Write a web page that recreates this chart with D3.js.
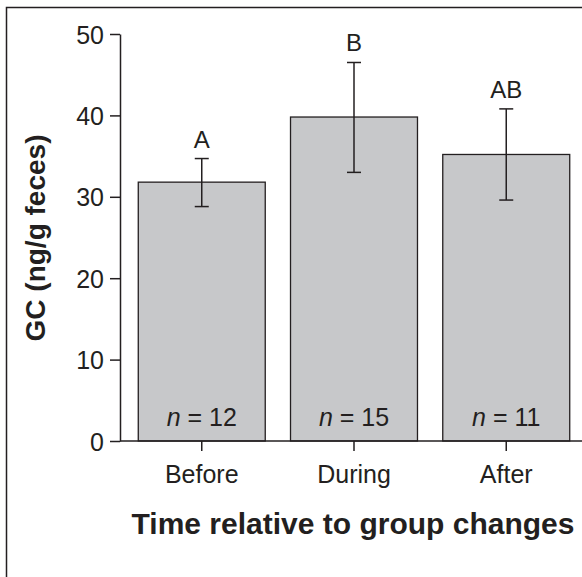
<!DOCTYPE html>
<html>
<head>
<meta charset="utf-8">
<script src="https://cdn.jsdelivr.net/npm/d3@7"></script>
<style>
  body { margin: 0; background: #fff; }
  text { font-family: "Liberation Sans", Arial, sans-serif; fill: #231f20; }
</style>
</head>
<body>
<div id="viz"></div>
<script>
// data
var groups = ["Before", "During", "After"];
var means = [31.8, 39.8, 35.2];
var errLow = [28.8, 33.0, 29.6];
var errHigh = [34.7, 46.5, 40.8];
var sigLetters = ["A", "B", "AB"];
var sampleSizes = [12, 15, 11];
var yTicks = [0, 10, 20, 30, 40, 50];

var W = 582, H = 577;
var ink = "#231f20";
var fontFam = "'Liberation Sans', Arial, sans-serif";

var svg = d3.select("#viz")
  .append("svg")
  .attr("width", W)
  .attr("height", H);

// panel frame (only top and left edges show in the crop)
svg.append("path")
  .attr("d", "M6.5," + H + "V7.5H" + W)
  .attr("fill", "none")
  .attr("stroke", ink)
  .attr("stroke-width", 1.5);

var x = d3.scaleBand().domain(groups).range([120, 588])
  .paddingInner(0.166).paddingOuter(0.12);
var y = d3.scaleLinear().domain([0, 50]).range([441, 34]);

// bars
svg.selectAll(".bar")
  .data(groups)
  .enter().append("rect")
  .attr("class", "bar")
  .attr("x", d => x(d))
  .attr("y", (d, i) => y(means[i]))
  .attr("width", x.bandwidth())
  .attr("height", (d, i) => y(0) - y(means[i]))
  .attr("fill", "#c7c8ca")
  .attr("stroke", ink)
  .attr("stroke-width", 1.3);

// error bars
var cap = 7;
var cx = d => x(d) + x.bandwidth() / 2;
var eb = svg.selectAll(".err")
  .data(groups)
  .enter().append("g")
  .attr("class", "err")
  .attr("stroke", ink)
  .attr("stroke-width", 1.5);
eb.append("line")
  .attr("x1", cx).attr("x2", cx)
  .attr("y1", (d, i) => y(errLow[i]))
  .attr("y2", (d, i) => y(errHigh[i]));
eb.append("line")
  .attr("x1", d => cx(d) - cap)
  .attr("x2", d => cx(d) + cap)
  .attr("y1", (d, i) => y(errLow[i]))
  .attr("y2", (d, i) => y(errLow[i]));
eb.append("line")
  .attr("x1", d => cx(d) - cap)
  .attr("x2", d => cx(d) + cap)
  .attr("y1", (d, i) => y(errHigh[i]))
  .attr("y2", (d, i) => y(errHigh[i]));

// significance letters
svg.selectAll(".sig")
  .data(groups)
  .enter().append("text")
  .attr("class", "sig")
  .attr("x", cx)
  .attr("y", (d, i) => y(errHigh[i]) - 11)
  .attr("text-anchor", "middle")
  .style("font-size", "24px")
  .text((d, i) => sigLetters[i]);

// sample sizes
var nText = svg.selectAll(".nlab")
  .data(groups)
  .enter().append("text")
  .attr("class", "nlab")
  .attr("x", cx)
  .attr("y", 426)
  .attr("text-anchor", "middle")
  .style("font-size", "25px");
nText.append("tspan").style("font-style", "italic").text("n");
nText.append("tspan").text((d, i) => " = " + sampleSizes[i]);

// y axis
var yAxis = d3.axisLeft(y).tickValues(yTicks).tickSize(10).tickPadding(6).tickSizeOuter(0);
var gy = svg.append("g")
  .attr("transform", "translate(120,0)")
  .call(yAxis);
gy.select(".domain").attr("stroke", ink).attr("stroke-width", 1.5);
gy.selectAll(".tick line").attr("stroke", ink).attr("stroke-width", 1.5);
gy.selectAll(".tick text")
  .style("font-size", "25px")
  .style("font-family", fontFam)
  .attr("fill", ink)
  .attr("dy", "0.36em");

// x axis
var xAxis = d3.axisBottom(x).tickSize(10).tickPadding(14).tickSizeOuter(0);
var gx = svg.append("g")
  .attr("transform", "translate(0,441)")
  .call(xAxis);
gx.select(".domain").attr("stroke", ink).attr("stroke-width", 1.5)
  .attr("d", "M120,0H" + W);
gx.selectAll(".tick line").attr("stroke", ink).attr("stroke-width", 1.5);
gx.selectAll(".tick text")
  .style("font-size", "25px")
  .style("font-family", fontFam)
  .attr("fill", ink)
  .attr("dy", "0.71em");

// axis titles
svg.append("text")
  .attr("x", 353)
  .attr("y", 534)
  .attr("text-anchor", "middle")
  .style("font-size", "30px")
  .style("font-weight", "bold")
  .text("Time relative to group changes");

svg.append("text")
  .attr("transform", "translate(45,238) rotate(-90)")
  .attr("text-anchor", "middle")
  .style("font-size", "28px")
  .style("font-weight", "bold")
  .text("GC (ng/g feces)");
</script>
</body>
</html>
